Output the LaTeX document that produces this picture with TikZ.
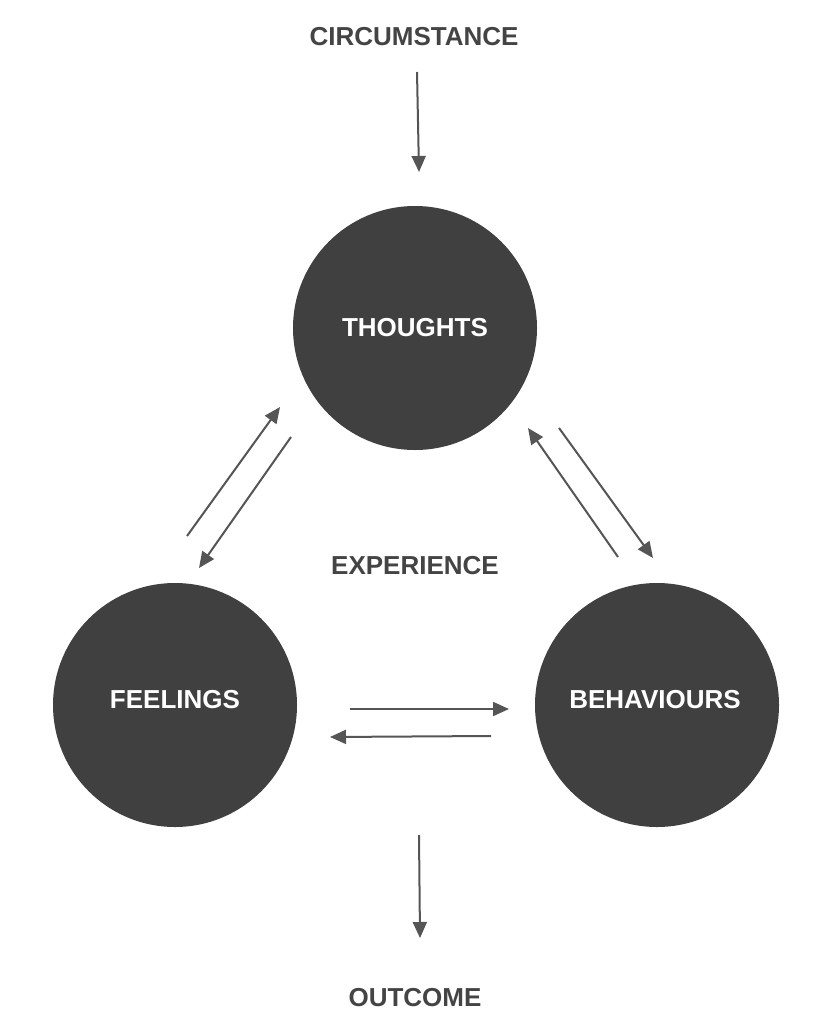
\documentclass[tikz,border=0pt]{standalone}
\usepackage{fontspec}
\setmainfont{Liberation Sans}
\usetikzlibrary{arrows.meta}
\definecolor{circ}{HTML}{404040}
\definecolor{lbl}{HTML}{444444}
\definecolor{arr}{HTML}{555555}
\tikzset{
  bubble/.style={circle, fill=circ, minimum size=244pt, inner sep=0pt},
  intext/.style={text=white, font=\bfseries\fontsize{26}{30}\selectfont, inner sep=0pt},
  outer/.style={text=lbl, font=\bfseries\fontsize{26}{30}\selectfont, inner sep=0pt},
  flow/.style={draw=arr, line width=2pt, -{Triangle[length=16pt,width=14pt]}}
}
\begin{document}
\begin{tikzpicture}[x=1pt,y=-1pt]
\useasboundingbox (0,0) rectangle (835,1024);
\node[bubble] (thoughts) at (415,328) {};
\node[bubble] (feelings) at (175,705) {};
\node[bubble] (behav) at (657,705) {};
\node[intext] (tt) at (thoughts.center) {THOUGHTS};
\node[intext] (ft) at ([yshift=5pt]feelings.center) {FEELINGS};
\node[intext] (bt) at ([xshift=-2pt,yshift=5pt]behav.center) {BEHAVIOURS};
\node[outer] (circum) at (414,37) {CIRCUMSTANCE};
\node[outer] (exper) at (415,566) {EXPERIENCE};
\node[outer] (outcome) at (415,998) {OUTCOME};
% endpoints
\coordinate (c1) at (417,72);  \coordinate (c2) at (419,172);
\coordinate (a1) at (187,536); \coordinate (a2) at (280,407);
\coordinate (b1) at (291,437); \coordinate (b2) at (199,568);
\coordinate (d1) at (618,557); \coordinate (d2) at (528,428);
\coordinate (e1) at (559,428); \coordinate (e2) at (653,558);
\coordinate (f1) at (350,709); \coordinate (f2) at (509,709);
\coordinate (g1) at (491,736); \coordinate (g2) at (330,737);
\coordinate (h1) at (419,835); \coordinate (h2) at (420,938);
\draw[flow] (c1) -- (c2);
\draw[flow] (a1) -- (a2);
\draw[flow] (b1) -- (b2);
\draw[flow] (d1) -- (d2);
\draw[flow] (e1) -- (e2);
\draw[flow] (f1) -- (f2);
\draw[flow] (g1) -- (g2);
\draw[flow] (h1) -- (h2);
\end{tikzpicture}
\end{document}
